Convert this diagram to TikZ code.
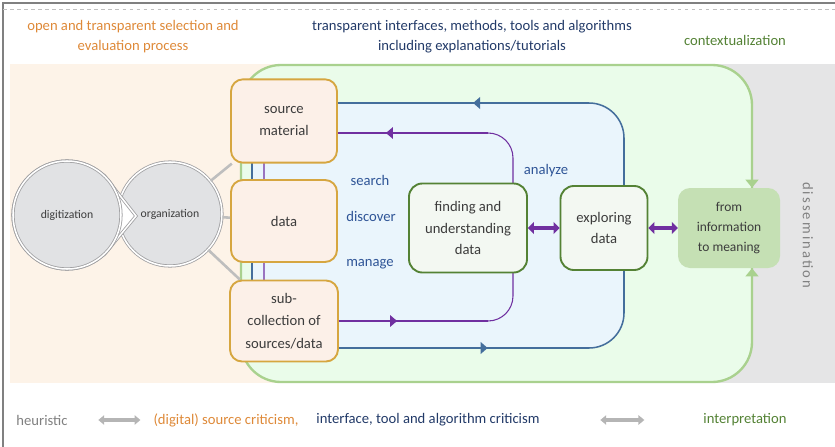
\documentclass[tikz,border=0pt]{standalone}
\usepackage{fontspec}
\setmainfont{Carlito}
\usetikzlibrary{arrows.meta, decorations.markings, positioning}

\definecolor{peachbg}{RGB}{253,243,232}
\definecolor{graybg}{RGB}{229,229,230}
\definecolor{greenbg}{RGB}{234,252,234}
\definecolor{greenln}{RGB}{169,209,142}
\definecolor{bluebg}{RGB}{234,245,252}
\definecolor{blueln}{RGB}{68,110,156}
\definecolor{purpln}{RGB}{112,48,160}
\definecolor{boxgold}{RGB}{214,166,64}
\definecolor{boxfill}{RGB}{252,240,232}
\definecolor{anafill}{RGB}{243,248,242}
\definecolor{anaedge}{RGB}{84,130,53}
\definecolor{meanfill}{RGB}{197,224,180}
\definecolor{circfill}{RGB}{225,226,228}
\definecolor{circedge}{RGB}{160,160,162}
\definecolor{linkgray}{RGB}{190,190,190}
\definecolor{txtdark}{RGB}{60,60,60}
\definecolor{orangetxt}{RGB}{222,137,56}
\definecolor{navytxt}{RGB}{34,58,104}
\definecolor{bluetxt}{RGB}{47,85,151}
\definecolor{greentxt}{RGB}{84,130,53}
\definecolor{graytxt}{RGB}{128,128,128}

\tikzset{
  txt/.style={align=center, font=\fontsize{12.5}{17}\selectfont},
  srcbox/.style={draw=boxgold, line width=1.6pt, fill=boxfill, rounded corners=0.36cm,
    minimum width=3.18cm, minimum height=2.5cm, align=center, text=txtdark,
    font=\fontsize{12.5}{19}\selectfont},
  anabox/.style={draw=anaedge, line width=1.6pt, fill=anafill, rounded corners=0.4cm,
    minimum width=3.54cm, minimum height=2.67cm, align=center, text=txtdark,
    font=\fontsize{12.5}{18.5}\selectfont},
  meanbox/.style={fill=meanfill, rounded corners=0.36cm, minimum width=3.06cm,
    minimum height=2.4cm, align=center, text=txtdark, font=\fontsize{11.5}{17}\selectfont},
  circ/.style={circle, draw=circedge, double=white, double distance=1.3pt, line width=0.7pt,
    fill=circfill, text=txtdark, font=\fontsize{10}{12}\selectfont},
  link/.style={linkgray, line width=2.2pt},
  tipat/.style={postaction={decorate}, decoration={markings,
    mark=at position #1 with {\arrow{Triangle[length=6pt,width=10pt]}}}},
  duo/.style={purpln, line width=3.5pt, {Triangle[length=5pt,width=10pt]}-{Triangle[length=5pt,width=10pt]}},
  grayduo/.style={linkgray!85!gray, line width=3pt, {Triangle[length=5pt,width=8pt]}-{Triangle[length=5pt,width=8pt]}},
  into/.style={greenln, line width=2pt, -{Triangle[length=7pt,width=11pt]}}
}

\begin{document}
\begin{tikzpicture}[x=0.03cm, y=-0.03cm]
	\useasboundingbox (0,0) rectangle (835,447);
	% frame
	\draw[graytxt, line width=1pt] (3,447) -- (3,3) -- (835,3);
	\draw[graytxt!50, dashed] (3,9) -- (835,9);
	% backgrounds
	\fill[peachbg] (10,64) rectangle (300,383);
	\fill[graybg] (700,64) rectangle (835,383);
	% contextualization frame
	\draw[greenln, line width=2pt, fill=greenbg, rounded corners=1.2cm] (241,65) rectangle (752,382);
	% interface loop
	\coordinate (btl) at (252,103);
	\coordinate (bbr) at (624,348);
	\draw[blueln, line width=1.3pt, fill=bluebg, rounded corners=1.05cm] (btl) rectangle (bbr);
	% analysis loop
	\coordinate (ptl) at (264,133);
	\coordinate (pbr) at (513,321);
	\draw[purpln, line width=0.9pt, rounded corners=0.75cm] (ptl) rectangle (pbr);

	% circles
	\node[circ, minimum size=3.12cm] (org) at (170,214) {organization};
	\coordinate (digtip) at (136,216);
	\node[circ, minimum size=3.24cm] (dig) at (67,215) {};
	\draw[circ, fill=white] (dig.48) -- (digtip) -- (dig.-48);
	\node[circ, minimum size=3.24cm] (dig) at (67,215) {digitization};

	% source boxes
	\node[srcbox] (source) at (284,121) {source\\material};
	\node[srcbox, minimum height=2.46cm] (data) at (284,221) {data};
	\node[srcbox, minimum width=3.24cm, minimum height=2.43cm] (sub) at (284,321) {sub-\\collection of\\sources/data};
	\draw[link] (org) -- (source);
	\draw[link] (org) -- (data);
	\draw[link] (org) -- (sub);

	% loop arrows
	\coordinate (bt) at (575,103);
	\coordinate (bb) at (575,348);
	\coordinate (pt) at (488,133);
	\coordinate (pb) at (488,321);
	\draw[blueln, line width=1.3pt, tipat=0.43] (bt) -- (source.east |- bt);
	\draw[blueln, line width=1.3pt, tipat=0.63] (sub.east |- bb) -- (bb);
	\draw[purpln, line width=0.9pt, tipat=0.68] (pt) -- (source.east |- pt);
	\draw[purpln, line width=0.9pt, tipat=0.39] (sub.east |- pb) -- (pb);

	% analysis boxes
	\node[anabox] (find) at (468,228) {finding and\\understanding\\data};
	\node[anabox, minimum width=2.61cm, minimum height=2.52cm] (explore) at (604,228) {exploring\\data};
	\node[meanbox] (meaning) at (729,228) {from\\information\\to meaning};
	\draw[duo] (find) -- (explore);
	\draw[duo] (explore) -- (meaning);
	\coordinate (gt) at (752,110);
	\coordinate (gb) at (752,345);
	\draw[into] (gt) -- (gt |- meaning.north);
	\draw[into] (gb) -- (gb |- meaning.south);

	% verbs
	\node[txt, text=bluetxt] (search) at (370,180) {search};
	\node[txt, text=bluetxt] (discover) at (371,216) {discover};
	\node[txt, text=bluetxt] (manage) at (370,264) {manage};
	\node[txt, text=bluetxt] (analyze) at (546,171) {analyze};

	% headings
	\node[txt, text=orangetxt] (selhead) at (133,37) {open and transparent selection and\\evaluation process};
	\node[txt, text=navytxt] (ifhead) at (472,37) {transparent interfaces, methods, tools and algorithms\\including explanations/tutorials};
	\node[txt, text=greentxt] (contexthead) at (735,40) {contextualization};
	\node[txt, text=graytxt, rotate=-90, font=\fontsize{12.5}{15}\selectfont\addfontfeature{LetterSpace=14}] (dissem) at (808,235) {dissemination};

	% criticism line
	\node[txt, text=graytxt] (heur) at (42,420) {heuristic};
	\node[txt, text=orangetxt] (srccrit) at (226,420) {(digital) source criticism,};
	\node[txt, text=navytxt] (ifcrit) at (428,420) {interface, tool and algorithm criticism};
	\node[txt, text=greentxt] (interp) at (745,420) {interpretation};
	\draw[grayduo, shorten <=0.8cm, shorten >=0.27cm] (heur) -- (srccrit);
	\draw[grayduo, shorten <=1.7cm, shorten >=1.65cm] (ifcrit) -- (interp);
\end{tikzpicture}
\end{document}
